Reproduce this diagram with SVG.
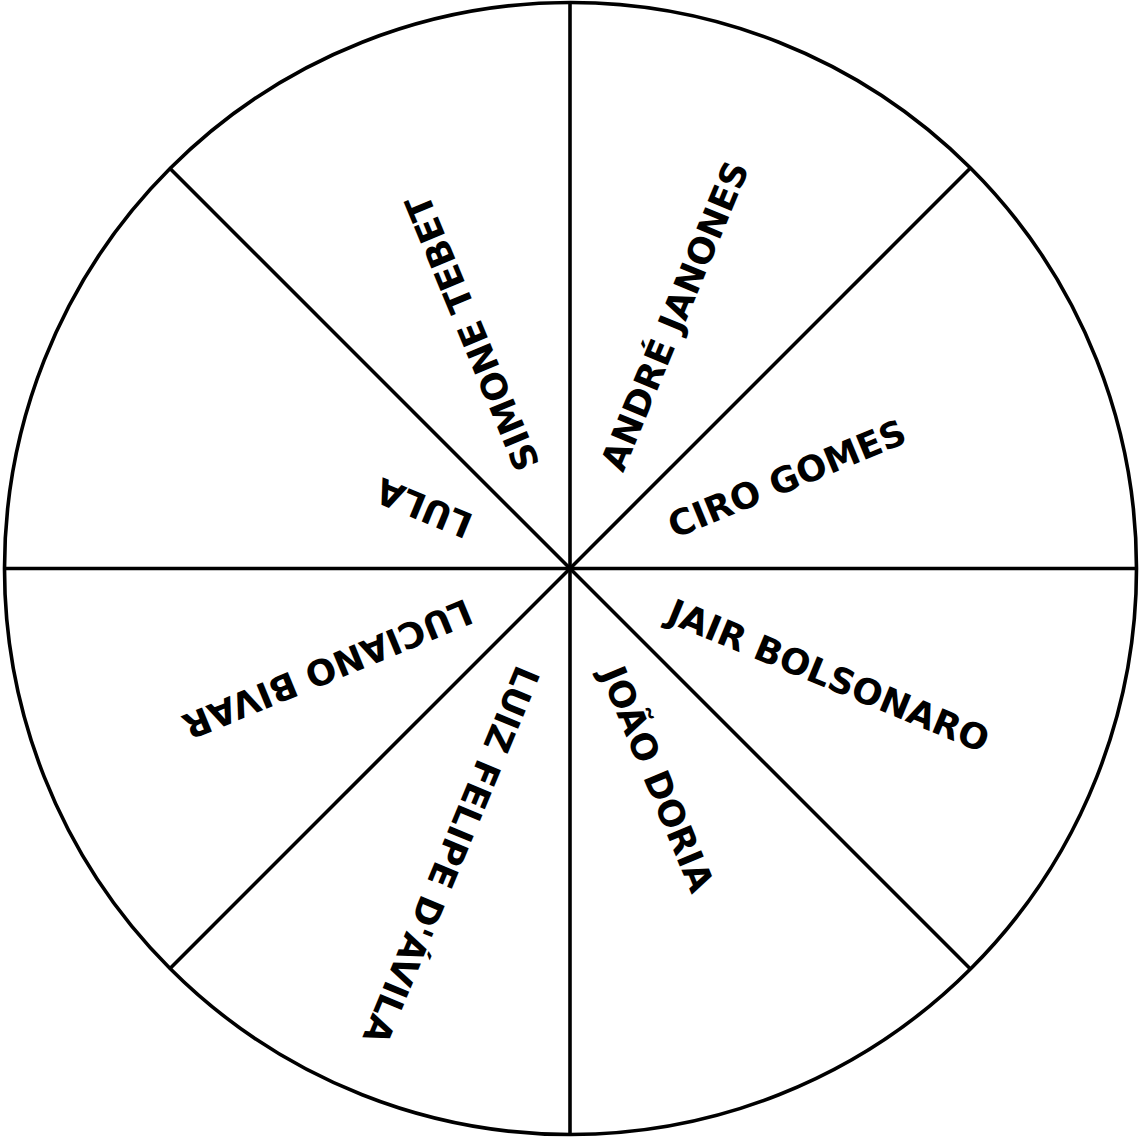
<svg xmlns="http://www.w3.org/2000/svg" width="1141" height="1142" viewBox="0 0 1141 1142">
<style>
.ln{stroke:#000;stroke-width:3.6;fill:none}
.lb{font-family:"DejaVu Sans",sans-serif;font-weight:bold;font-size:35.5px;fill:#000}
</style>
<rect width="1141" height="1142" fill="#fff"/>
<g id="wheel">
<circle class="ln" cx="570.5" cy="568.5" r="566"/>
</g>
<g id="connectors">
<line class="ln" x1="570" y1="2.5" x2="570" y2="1134.5"/>
<line class="ln" x1="4.5" y1="568.5" x2="1136.5" y2="568.5"/>
<line class="ln" x1="170.3" y1="168.8" x2="970.7" y2="969.2"/>
<line class="ln" x1="170.3" y1="968.2" x2="970.7" y2="167.8"/>
</g>
<g id="n-ciro" transform="translate(570,568.5) rotate(-22.5)"><text class="lb" x="108" y="12.5">CIRO GOMES</text></g>
<g id="n-jair" transform="translate(570,568.5) rotate(22.5)"><text class="lb" x="108" y="12.5">JAIR BOLSONARO</text></g>
<g id="n-joao" transform="translate(570,568.5) rotate(67.5)"><text class="lb" x="108" y="12.5">JOÃO DORIA</text></g>
<g id="n-luiz" transform="translate(570,568.5) rotate(112.5)"><text class="lb" x="108" y="12.5">LUIZ FELIPE D'ÁVILA</text></g>
<g id="n-luciano" transform="translate(570,568.5) rotate(157.5)"><text class="lb" x="108" y="12.5">LUCIANO BIVAR</text></g>
<g id="n-lula" transform="translate(570,568.5) rotate(202.5)"><text class="lb" x="108" y="12.5">LULA</text></g>
<g id="n-simone" transform="translate(570,568.5) rotate(247.5)"><text class="lb" x="108" y="12.5">SIMONE TEBET</text></g>
<g id="n-andre" transform="translate(570,568.5) rotate(292.5)"><text class="lb" x="108" y="12.5">ANDRÉ JANONES</text></g>
</svg>
